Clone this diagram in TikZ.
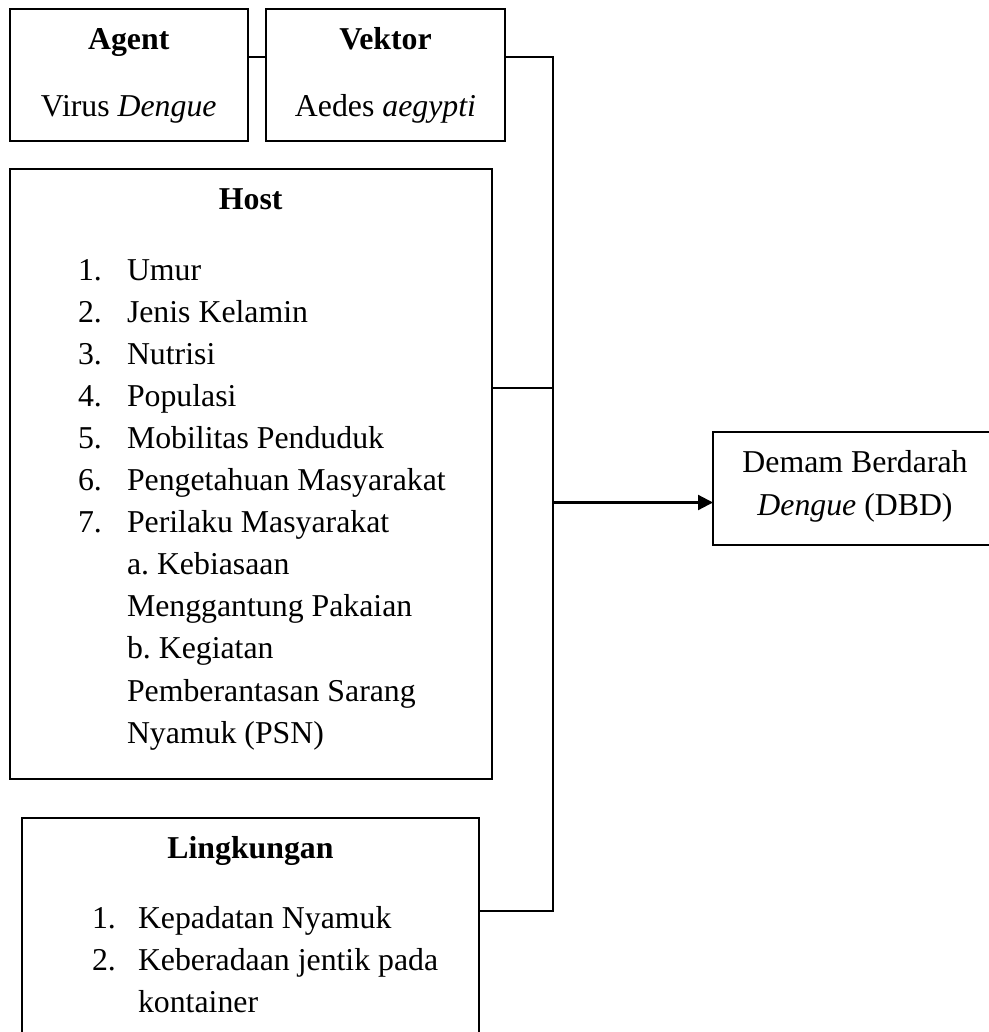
\documentclass[tikz,border=0pt]{standalone}
\usepackage{fontspec}
\setmainfont{Liberation Serif}
\usetikzlibrary{arrows.meta}
\frenchspacing
\begin{document}
\begin{tikzpicture}[x=0.5pt,y=-0.5pt,
  box/.style={draw,line width=1pt,inner sep=0pt,outer sep=0pt,anchor=north west},
  conn/.style={line width=0.9pt},
  txt/.style={inner sep=0pt,outer sep=0pt,font=\fontsize{15.9pt}{21pt}\selectfont},
  ctr/.style={txt,anchor=base},
  lft/.style={txt,anchor=base west}]
\useasboundingbox (0,0) rectangle (989,1032);
\clip (0,0) rectangle (989,1032);
\fill[white] (0,0) rectangle (989,1032);

% boxes
\node[box,minimum width=119.25pt,minimum height=65.75pt] (agent) at (9.5,9.5) {};
\node[box,minimum width=119.5pt,minimum height=65.75pt] (vektor) at (266,9.5) {};
\node[box,minimum width=241.25pt,minimum height=305pt] (host) at (9.5,169) {};
\node[box,minimum width=228.5pt,minimum height=121.25pt] (ling) at (22,817.5) {};
\node[box,minimum width=142pt,minimum height=56.5pt] (demam) at (713,432) {};

% texts: Agent / Vektor
\node[ctr] (agentT) at (128.75,50) {\textbf{Agent}};
\node[ctr] (agentS) at (128.75,117) {Virus \textit{Dengue}};
\node[ctr] (vektorT) at (385.5,50) {\textbf{Vektor}};
\node[ctr] (vektorS) at (385.5,117) {Aedes \textit{aegypti}};

% Host
\node[ctr] (hostT) at (250.75,210) {\textbf{Host}};
\foreach \i in {1,...,7}
  \node[lft,name=hn\i] at (78,{280+42.1*(\i-1)}) {\i.};
\foreach \t [count=\i from 0] in {{Umur},{Jenis Kelamin},{Nutrisi},{Populasi},{Mobilitas Penduduk},{Pengetahuan Masyarakat},{Perilaku Masyarakat},{a.\ Kebiasaan},{Menggantung Pakaian},{b.\ Kegiatan},{Pemberantasan Sarang},{Nyamuk (PSN)}}
  \node[lft,name=ht\i] at (127,{280+42.1*\i}) {\t};

% Lingkungan
\node[ctr] (lingT) at (250.5,858) {\textbf{Lingkungan}};
\node[lft] (ln1) at (92,928) {1.};
\node[lft] (ln2) at (92,970) {2.};
\node[lft] (lt1) at (138,928) {Kepadatan Nyamuk};
\node[lft] (lt2) at (138,970) {Keberadaan jentik pada};
\node[lft] (lt3) at (138,1012) {kontainer};

% DBD
\node[ctr] (demamA) at (855,472) {Demam Berdarah};
\node[ctr] (demamB) at (855,515) {\textit{Dengue} (DBD)};

% connectors
\coordinate (t1) at (553,57);
\coordinate (t2) at (553,388);
\coordinate (t3) at (553,502.5);
\coordinate (t4) at (553,911);
\draw[conn] (agent.east |- t1) -- (vektor.west |- t1);
\draw[conn] (vektor.east |- t1) -- (t1) -- (t4) -- (ling.east |- t4);
\draw[conn] (host.east |- t2) -- (t2);
\draw[conn,line width=1.1pt,-{Triangle[length=7.5pt,width=7.5pt]}] (t3) -- (demam.west |- t3);
\end{tikzpicture}
\end{document}
